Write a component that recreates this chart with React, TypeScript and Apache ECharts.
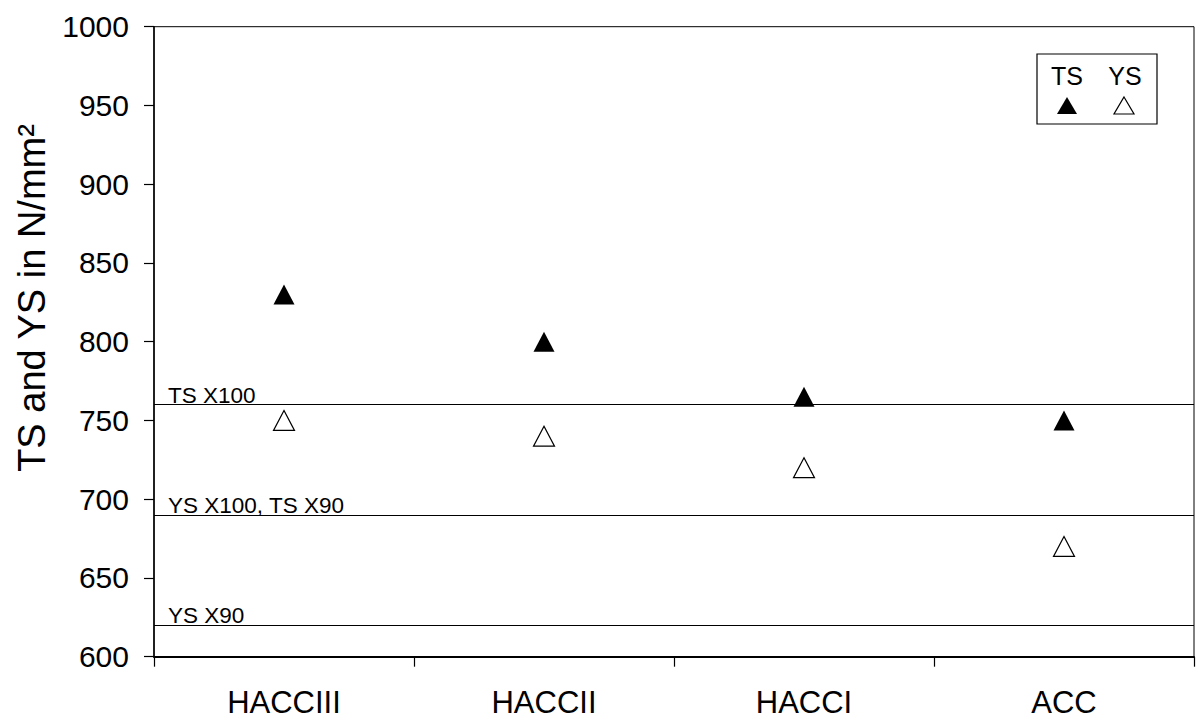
import React, { useEffect, useRef } from "react";
import * as echarts from "echarts";

const categories = ["HACCIII", "HACCII", "HACCI", "ACC"];
const tsValues = [830, 800, 765, 750];
const ysValues = [750, 740, 720, 670];
const refLineValues = [760, 690, 620];
const refLineLabels = ["TS X100", "YS X100, TS X90", "YS X90"];
const yTicks = { min: 600, max: 1000, interval: 50 };

const FONT = "Liberation Sans, Arial, sans-serif";

export default function App() {
  const ref = useRef<HTMLDivElement>(null);
  useEffect(() => {
    document.body.style.margin = "0";
    const chart = echarts.init(ref.current!, null, { renderer: "svg" });
    const option: any = {
      animation: false,
      backgroundColor: "#fff",
      grid: {
        left: 154,
        right: 3,
        top: 26.7,
        bottom: 65.3,
        show: true,
        borderColor: "#000",
        borderWidth: 1,
        backgroundColor: "transparent",
      },
      xAxis: {
        type: "category",
        data: categories,
        boundaryGap: true,
        axisLine: { show: true, lineStyle: { color: "#000", width: 2 } },
        axisTick: { show: true, length: 10, inside: false, lineStyle: { color: "#000", width: 1.2 } },
        axisLabel: { color: "#000", fontSize: 31, fontFamily: FONT, margin: 30 },
        splitLine: { show: false },
      },
      yAxis: {
        type: "value",
        min: yTicks.min,
        max: yTicks.max,
        interval: yTicks.interval,
        axisLine: { show: true, lineStyle: { color: "#000", width: 1.5 } },
        axisTick: { show: true, length: 10, inside: false, lineStyle: { color: "#000", width: 1.2 } },
        axisLabel: {
          color: "#000",
          fontSize: 30,
          fontFamily: FONT,
          margin: 25,
          formatter: (v: number) => String(v),
        },
        splitLine: { show: false },
      },
      graphic: [
        {
          type: "text",
          x: 32,
          y: 298,
          rotation: Math.PI / 2,
          style: {
            text: "TS and YS in N/mm²",
            fontSize: 38,
            fontFamily: FONT,
            fill: "#000",
            align: "center",
            verticalAlign: "middle",
          },
        },
        {
          type: "rect",
          shape: { x: 1037, y: 54, width: 120, height: 70 },
          style: { fill: "#fff", stroke: "#000", lineWidth: 1.2 },
          z: 10,
        },
        {
          type: "text",
          x: 1067,
          y: 76,
          style: { text: "TS", fontSize: 25, fontFamily: FONT, fill: "#000", align: "center", verticalAlign: "middle" },
          z: 11,
        },
        {
          type: "text",
          x: 1125,
          y: 76,
          style: { text: "YS", fontSize: 25, fontFamily: FONT, fill: "#000", align: "center", verticalAlign: "middle" },
          z: 11,
        },
        {
          type: "polygon",
          shape: { points: [[1067, 97], [1077, 114], [1057, 114]] },
          style: { fill: "#000" },
          z: 11,
        },
        {
          type: "polygon",
          shape: { points: [[1124, 97], [1134, 114], [1114, 114]] },
          style: { fill: "#fff", stroke: "#000", lineWidth: 1.2 },
          z: 11,
        },
      ],
      series: [
        {
          name: "TS",
          type: "scatter",
          data: tsValues,
          symbol: "triangle",
          symbolSize: [21, 20],
          itemStyle: { color: "#000", opacity: 1 },
          z: 5,
          markLine: {
            silent: true,
            symbol: ["none", "none"],
            lineStyle: { color: "#000", width: 1.2, type: "solid", opacity: 1 },
            label: {
              show: true,
              position: "insideStartTop",
              fontSize: 22.5,
              fontFamily: FONT,
              color: "#000",
              distance: [14, -2],
            },
            data: refLineValues.map((v, i) => ({
              yAxis: v,
              label: { formatter: refLineLabels[i] },
            })),
          },
        },
        {
          name: "YS",
          type: "scatter",
          data: ysValues,
          symbol: "triangle",
          symbolSize: [21, 20],
          itemStyle: { color: "#fff", borderColor: "#000", borderWidth: 1.2, opacity: 1 },
          z: 5,
        },
      ],
    };
    chart.setOption(option);
    return () => chart.dispose();
  }, []);
  return (
    <div
      ref={ref}
      style={{ position: "fixed", left: 0, top: 0, width: 1197, height: 722, background: "#fff" }}
    />
  );
}
